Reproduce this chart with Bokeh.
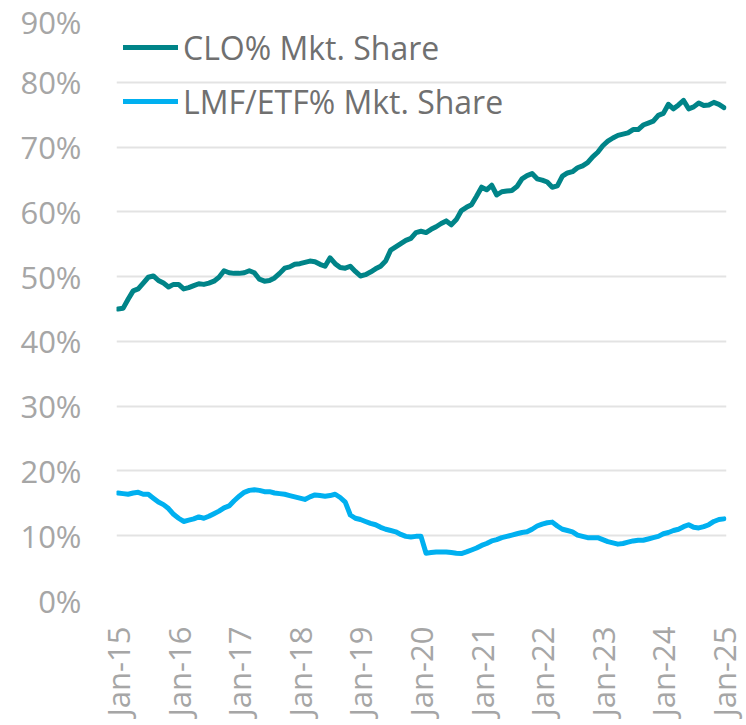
import math
from bokeh.plotting import figure
from bokeh.models import (ColumnDataSource, Range1d, FixedTicker, PrintfTickFormatter,
                          Legend, LegendItem)
from bokeh.embed import file_html
from bokeh.resources import INLINE

# Monthly index 0 = Jan-15 ... 120 = Jan-25
clo_share = [
    45.0, 45.1, 46.5, 47.8, 48.1, 49.0, 49.9, 50.1, 49.4, 49.0, 48.4, 48.8,
    48.8, 48.1, 48.3, 48.6, 48.9, 48.8, 49.0, 49.3, 49.9, 50.9, 50.6, 50.5,
    50.5, 50.6, 50.9, 50.6, 49.6, 49.3, 49.4, 49.8, 50.5, 51.3, 51.5, 51.9,
    52.0, 52.2, 52.4, 52.3, 51.9, 51.6, 52.9, 52.0, 51.4, 51.3, 51.6, 50.8,
    50.1, 50.3, 50.7, 51.2, 51.6, 52.4, 54.1, 54.6, 55.1, 55.6, 55.9, 56.8,
    57.0, 56.8, 57.3, 57.7, 58.2, 58.6, 58.0, 58.8, 60.2, 60.7, 61.1, 62.4,
    63.8, 63.4, 64.1, 62.6, 63.1, 63.2, 63.3, 63.9, 65.1, 65.6, 65.9, 65.1,
    64.9, 64.6, 63.8, 64.0, 65.5, 66.0, 66.2, 66.8, 67.1, 67.6, 68.5, 69.2,
    70.2, 70.9, 71.4, 71.8, 72.0, 72.2, 72.7, 72.7, 73.4, 73.7, 74.0, 74.9,
    75.2, 76.6, 75.9, 76.5, 77.2, 75.9, 76.2, 76.8, 76.4, 76.5, 76.9, 76.6,
    76.1,
]
lmf_etf_share = [
    16.6, 16.5, 16.4, 16.6, 16.7, 16.4, 16.4, 15.8, 15.2, 14.8, 14.2, 13.3,
    12.7, 12.2, 12.4, 12.6, 12.9, 12.7, 13.0, 13.4, 13.8, 14.3, 14.6, 15.4,
    16.1, 16.7, 17.0, 17.1, 17.0, 16.8, 16.8, 16.6, 16.5, 16.4, 16.2, 16.0,
    15.8, 15.6, 16.0, 16.3, 16.2, 16.1, 16.2, 16.4, 15.9, 15.2, 13.2, 12.7,
    12.5, 12.2, 11.9, 11.7, 11.3, 11.0, 10.8, 10.6, 10.2, 9.9, 9.8, 9.9,
    9.9, 7.3, 7.4, 7.5, 7.5, 7.5, 7.4, 7.3, 7.25, 7.5, 7.8, 8.1,
    8.5, 8.8, 9.2, 9.4, 9.7, 9.9, 10.1, 10.3, 10.5, 10.6, 11.0, 11.5,
    11.8, 12.0, 12.1, 11.5, 11.0, 10.8, 10.6, 10.1, 9.9, 9.7, 9.7, 9.7,
    9.4, 9.1, 8.9, 8.7, 8.8, 9.0, 9.2, 9.3, 9.3, 9.5, 9.7, 9.9,
    10.3, 10.5, 10.8, 11.0, 11.4, 11.7, 11.3, 11.2, 11.4, 11.7, 12.2, 12.5,
    12.6,
]
month_index = list(range(len(clo_share)))

x_tick_labels = ["Jan-15", "Jan-16", "Jan-17", "Jan-18", "Jan-19", "Jan-20",
                 "Jan-21", "Jan-22", "Jan-23", "Jan-24", "Jan-25"]
x_tick_positions = [12 * i for i in range(len(x_tick_labels))]
y_ticks = [0, 10, 20, 30, 40, 50, 60, 70, 80, 90]

series_names = ["CLO% Mkt. Share", "LMF/ETF% Mkt. Share"]
series_colors = ["#008488", "#00B0F0"]

FONT = "Open Sans"
TICK_COLOR = "#a6a6a6"

source = ColumnDataSource(dict(x=month_index, clo=clo_share, lmf=lmf_etf_share))

p = figure(width=746, height=725, output_backend="svg", toolbar_location=None,
           title=None,
           x_range=Range1d(-0.3, 120.5), y_range=Range1d(0, 90),
           min_border_left=116, min_border_right=20, min_border_top=17,
           min_border_bottom=125)
p.outline_line_color = None
p.background_fill_color = "white"
p.border_fill_color = "white"

r1 = p.line("x", "clo", source=source, line_color=series_colors[0], line_width=5,
            line_join="round", line_cap="round")
r2 = p.line("x", "lmf", source=source, line_color=series_colors[1], line_width=5,
            line_join="round", line_cap="round")

# grid
p.xgrid.grid_line_color = None
p.ygrid.grid_line_color = "#e3e3e3"
p.ygrid.grid_line_width = 2

# y axis
p.yaxis.ticker = FixedTicker(ticks=y_ticks)
p.yaxis.formatter = PrintfTickFormatter(format="%d%%")
p.yaxis.axis_line_color = None
p.yaxis.major_tick_line_color = None
p.yaxis.minor_tick_line_color = None
p.yaxis.major_tick_out = 0
p.yaxis.major_tick_in = 0
p.yaxis.major_label_text_font = FONT
p.yaxis.major_label_text_font_size = "31px"
p.yaxis.major_label_text_color = TICK_COLOR
p.yaxis.major_label_standoff = 35

# x axis
p.xaxis.ticker = FixedTicker(ticks=x_tick_positions)
p.xaxis.major_label_overrides = {pos: lab for pos, lab in zip(x_tick_positions, x_tick_labels)}
p.xaxis.axis_line_color = None
p.xaxis.major_tick_line_color = None
p.xaxis.minor_tick_line_color = None
p.xaxis.major_tick_out = 0
p.xaxis.major_tick_in = 0
p.xaxis.major_label_orientation = math.pi / 2
p.xaxis.major_label_text_font = FONT
p.xaxis.major_label_text_font_size = "31px"
p.xaxis.major_label_text_color = TICK_COLOR
p.xaxis.major_label_standoff = 26

legend = Legend(items=[LegendItem(label=series_names[0], renderers=[r1]),
                       LegendItem(label=series_names[1], renderers=[r2])],
                location="top_left", margin=7, padding=8, spacing=8,
                glyph_width=55, glyph_height=46, label_height=46,
                label_standoff=5,
                label_text_font=FONT, label_text_font_size="32px",
                label_text_color="#707070",
                border_line_color=None, background_fill_alpha=0)
p.add_layout(legend)

open("out.html", "w").write(file_html(p, INLINE))
